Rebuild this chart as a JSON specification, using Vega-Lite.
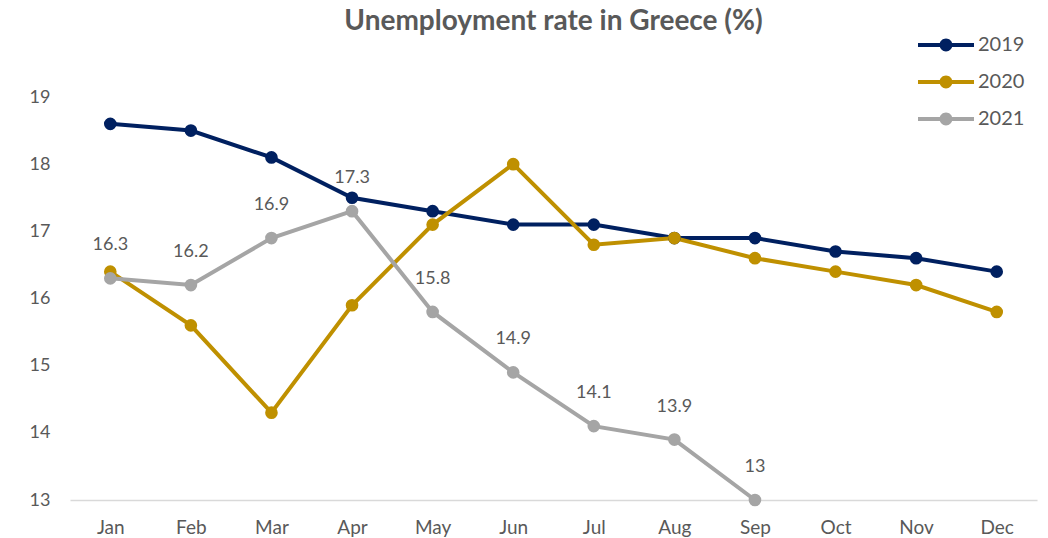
{
  "$schema": "https://vega.github.io/schema/vega-lite/v6.json",
  "autosize": "none",
  "width": 967,
  "height": 403,
  "padding": {"left": 70, "top": 97, "right": 11, "bottom": 38},
  "background": "white",
  "config": {"view": {"stroke": null}, "font": "Lato"},
  "title": {"text": "Unemployment rate in Greece (%)", "fontSize": 28, "fontWeight": "bold", "color": "#595959", "anchor": "middle", "offset": -5, "font": "Lato"},
  "data": {"values": [
    {"month": "Jan", "year": "2019", "rate": 18.6},
    {"month": "Feb", "year": "2019", "rate": 18.5},
    {"month": "Mar", "year": "2019", "rate": 18.1},
    {"month": "Apr", "year": "2019", "rate": 17.5},
    {"month": "May", "year": "2019", "rate": 17.3},
    {"month": "Jun", "year": "2019", "rate": 17.1},
    {"month": "Jul", "year": "2019", "rate": 17.1},
    {"month": "Aug", "year": "2019", "rate": 16.9},
    {"month": "Sep", "year": "2019", "rate": 16.9},
    {"month": "Oct", "year": "2019", "rate": 16.7},
    {"month": "Nov", "year": "2019", "rate": 16.6},
    {"month": "Dec", "year": "2019", "rate": 16.4},
    {"month": "Jan", "year": "2020", "rate": 16.4},
    {"month": "Feb", "year": "2020", "rate": 15.6},
    {"month": "Mar", "year": "2020", "rate": 14.3},
    {"month": "Apr", "year": "2020", "rate": 15.9},
    {"month": "May", "year": "2020", "rate": 17.1},
    {"month": "Jun", "year": "2020", "rate": 18.0},
    {"month": "Jul", "year": "2020", "rate": 16.8},
    {"month": "Aug", "year": "2020", "rate": 16.9},
    {"month": "Sep", "year": "2020", "rate": 16.6},
    {"month": "Oct", "year": "2020", "rate": 16.4},
    {"month": "Nov", "year": "2020", "rate": 16.2},
    {"month": "Dec", "year": "2020", "rate": 15.8},
    {"month": "Jan", "year": "2021", "rate": 16.3},
    {"month": "Feb", "year": "2021", "rate": 16.2},
    {"month": "Mar", "year": "2021", "rate": 16.9},
    {"month": "Apr", "year": "2021", "rate": 17.3},
    {"month": "May", "year": "2021", "rate": 15.8},
    {"month": "Jun", "year": "2021", "rate": 14.9},
    {"month": "Jul", "year": "2021", "rate": 14.1},
    {"month": "Aug", "year": "2021", "rate": 13.9},
    {"month": "Sep", "year": "2021", "rate": 13.0}
  ]},
  "encoding": {
    "x": {"field": "month", "type": "ordinal", "sort": ["Jan","Feb","Mar","Apr","May","Jun","Jul","Aug","Sep","Oct","Nov","Dec"],
      "scale": {"type": "point", "padding": 0.5},
      "axis": {"title": null, "labelAngle": 0, "labelFontSize": 19, "labelColor": "#595959", "labelPadding": 18, "ticks": false, "domainColor": "#d9d9d9", "domainWidth": 1.5, "grid": false}},
    "y": {"field": "rate", "type": "quantitative",
      "scale": {"domain": [13, 19], "nice": false, "zero": false},
      "axis": {"title": null, "values": [13,14,15,16,17,18,19], "labelFontSize": 18, "labelColor": "#595959", "labelPadding": 20, "ticks": false, "domain": false, "grid": false}}
  },
  "layer": [
    {
      "mark": {"type": "line", "strokeWidth": 4},
      "encoding": {
        "color": {"field": "year", "type": "nominal",
          "scale": {"domain": ["2019","2020","2021"], "range": ["#002060","#bf9000","#a5a5a5"]},
          "legend": {"title": null, "orient": "none", "legendX": 862, "legendY": -66, "symbolType": "M-2,-0.14L2,-0.14L2,0.14L-2,0.14Z M-0.46,0 A0.46,0.46 0 1,1 0.46,0 A0.46,0.46 0 1,1 -0.46,0 Z", "symbolSize": 784, "symbolStrokeWidth": 0, "labelOffset": 18, "labelFontSize": 20, "labelColor": "#595959", "rowPadding": 13,
            "encode": {"symbols": {"update": {"fill": {"scale": "color", "field": "value"}, "fillOpacity": {"value": 1}, "strokeWidth": {"value": 0}}}}}}
      }
    },
    {
      "mark": {"type": "point", "filled": true, "opacity": 1, "size": 160},
      "encoding": {
        "color": {"field": "year", "type": "nominal", "legend": null}
      }
    },
    {
      "transform": [{"filter": "datum.year == '2021'"}],
      "mark": {"type": "text", "fontSize": 18, "color": "#595959", "dy": -33, "baseline": "middle"},
      "encoding": {"text": {"field": "rate", "type": "quantitative"}}
    }
  ]
}
